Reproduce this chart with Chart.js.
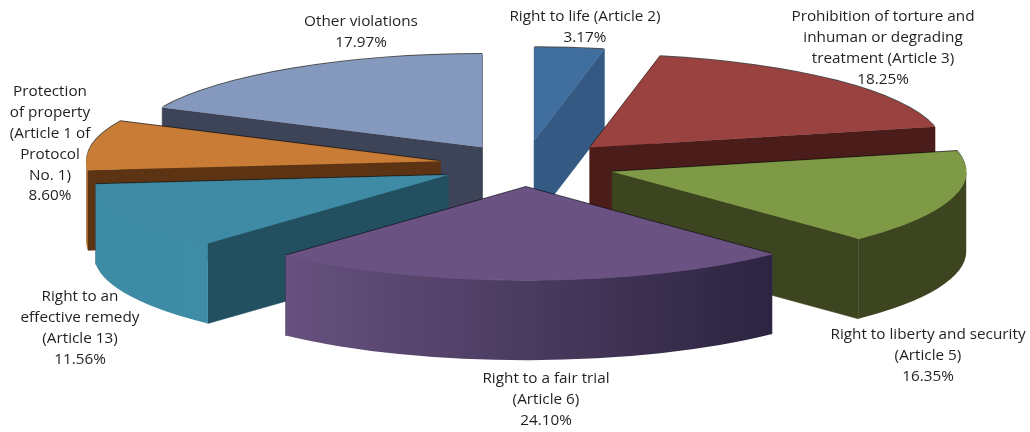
<!DOCTYPE html>
<html>
<head>
<meta charset="utf-8">
<style>
  html, body { margin: 0; background: #fff; }
  canvas { display: block; }
</style>
<script src="https://cdn.jsdelivr.net/npm/chart.js@4"></script>
</head>
<body>
<canvas id="pie" width="1030" height="432"></canvas>
<script>
const categories = [
  ['Right to life (Article 2)'],
  ['Prohibition of torture and', 'inhuman or degrading', 'treatment (Article 3)'],
  ['Right to liberty and security', '(Article 5)'],
  ['Right to a fair trial', '(Article 6)'],
  ['Right to an', 'effective remedy', '(Article 13)'],
  ['Protection', 'of property', '(Article 1 of', 'Protocol', 'No. 1)'],
  ['Other violations'],
];
const shares = [3.17, 18.25, 16.35, 24.10, 11.56, 8.60, 17.97];

const topColors = ['#3f6e9f', '#9a4240', '#7f9a47', '#6a5283', '#3f8ba6', '#c87c36', '#8499bd'];
const wallColors = ['#345a83', '#4a1c1a', '#3c451f', '#3a2c52', '#235060', '#5c3413', '#3e4457'];
const rimLeft = ['#345a83', '#4a1c1a', '#3c451f', '#67517f', '#3c8aa4', '#8f5a20', '#3e4457'];
const rimRight = ['#345a83', '#4a1c1a', '#3c451f', '#2c2440', '#3f8ca6', '#b06c2c', '#3e4457'];

// how far each slice is pulled out of the pie, before flattening
const explode = [94, 93, 91, 84, 86, 86, 80];
// back slices are painted first
const paintOrder = [6, 0, 1, 5, 2, 4, 3];
// centre x and top line y of each label
const labelAnchors = [[585, 17], [883, 17], [928, 335], [546, 379], [80, 297], [50, 92], [361, 22]];

const RADIUS = 354;
const FLATTEN = 0.263;
const DEPTH = 80;
const CX = 525;
const CY = 165;
const LINE = 20.8;

function sliceCentre(arc, i) {
  const mid = (arc.startAngle + arc.endAngle) / 2;
  return {
    x: CX + Math.cos(mid) * explode[i],
    y: CY + Math.sin(mid) * explode[i] * FLATTEN,
  };
}

function edgePoint(c, angle) {
  return { x: c.x + RADIUS * Math.cos(angle), y: c.y + RADIUS * FLATTEN * Math.sin(angle) };
}

function drawFace(ctx, c, angle, color) {
  const p = edgePoint(c, angle);
  ctx.beginPath();
  ctx.moveTo(c.x, c.y);
  ctx.lineTo(p.x, p.y);
  ctx.lineTo(p.x, p.y + DEPTH);
  ctx.lineTo(c.x, c.y + DEPTH);
  ctx.closePath();
  ctx.fillStyle = color;
  ctx.fill();
  // closes the light gap where a face meets the rim
  ctx.strokeStyle = color;
  ctx.lineWidth = 0.6;
  ctx.stroke();
}

function drawRim(ctx, c, arc, i) {
  const a0 = Math.max(arc.startAngle, 0);
  const a1 = Math.min(arc.endAngle, Math.PI);
  if (a1 <= a0) return;
  const ry = RADIUS * FLATTEN;
  const left = edgePoint(c, a1).x;
  const right = edgePoint(c, a0).x;
  const grad = ctx.createLinearGradient(left, 0, right, 0);
  grad.addColorStop(0, rimLeft[i]);
  grad.addColorStop(1, rimRight[i]);
  ctx.beginPath();
  ctx.ellipse(c.x, c.y, RADIUS, ry, 0, a0, a1);
  ctx.ellipse(c.x, c.y + DEPTH, RADIUS, ry, 0, a1, a0, true);
  ctx.closePath();
  ctx.fillStyle = grad;
  ctx.fill();
  // hides the dark seam between rim and top
  ctx.beginPath();
  ctx.ellipse(c.x, c.y, RADIUS, ry, 0, a0, a1);
  ctx.strokeStyle = topColors[i];
  ctx.lineWidth = 1;
  ctx.stroke();
}

// thin dark line left along the upper edges of each slice
function drawEdgeLine(ctx, c, arc) {
  ctx.beginPath();
  ctx.moveTo(c.x, c.y - 1);
  ctx.ellipse(c.x, c.y - 1, RADIUS, RADIUS * FLATTEN, 0, arc.startAngle, arc.endAngle);
  ctx.closePath();
  ctx.fillStyle = 'rgba(15,15,15,0.75)';
  ctx.fill();
}

const tiltedPie = {
  id: 'tiltedPie',
  // the arcs are painted below, one by one, on a flattened context
  beforeDatasetDraw() {
    return false;
  },
  afterDatasetsDraw(chart) {
    const ctx = chart.ctx;
    const arcs = chart.getDatasetMeta(0).data;
    paintOrder.forEach((i) => {
      const arc = arcs[i];
      const c = sliceCentre(arc, i);
      drawEdgeLine(ctx, c, arc);
      drawFace(ctx, c, arc.startAngle, wallColors[i]);
      drawFace(ctx, c, arc.endAngle, wallColors[i]);
      drawRim(ctx, c, arc, i);
      ctx.save();
      ctx.translate(c.x, c.y);
      ctx.scale(1, FLATTEN);
      ctx.translate(-arc.x, -arc.y);
      arc.draw(ctx);
      ctx.restore();
    });
  },
};

const sliceLabels = {
  id: 'sliceLabels',
  afterDraw(chart) {
    const ctx = chart.ctx;
    ctx.save();
    ctx.font = '15.3px "Open Sans"';
    ctx.fillStyle = '#231f20';
    ctx.textAlign = 'center';
    ctx.textBaseline = 'middle';
    categories.forEach((lines, i) => {
      const [x, y] = labelAnchors[i];
      const text = lines.concat(shares[i].toFixed(2) + '%');
      text.forEach((line, n) => ctx.fillText(line, x, y + n * LINE));
    });
    ctx.restore();
  },
};

new Chart(document.getElementById('pie'), {
  type: 'pie',
  data: {
    labels: categories.map((lines) => lines.join(' ')),
    datasets: [{
      data: shares,
      backgroundColor: topColors,
      borderWidth: 0,
    }],
  },
  options: {
    responsive: false,
    animation: false,
    radius: RADIUS,
    plugins: {
      legend: { display: false },
      tooltip: { enabled: false },
    },
  },
  plugins: [tiltedPie, sliceLabels],
});
</script>
</body>
</html>
